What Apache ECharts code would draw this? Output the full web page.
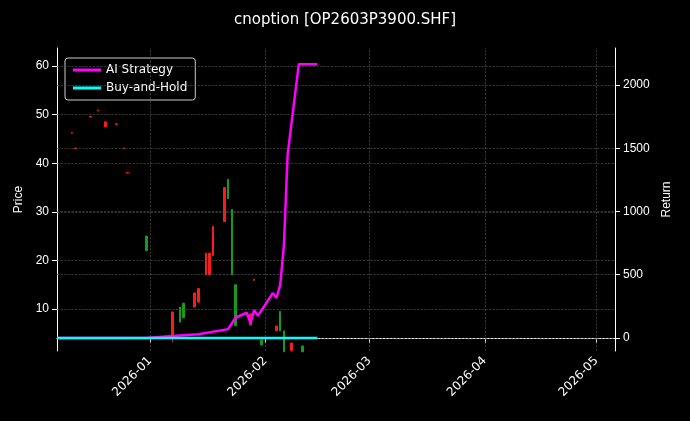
<!DOCTYPE html><html><head><meta charset="utf-8"><script src="https://cdn.jsdelivr.net/npm/echarts@6/dist/echarts.min.js"></script>
<style>html,body{margin:0;background:#000}#c{width:690px;height:421px}</style></head><body><div id="c"></div><script>
const candleDates=['2025-12-11','2025-12-12','2025-12-16','2025-12-18','2025-12-20','2025-12-23','2025-12-25','2025-12-26','2025-12-31','2026-01-07','2026-01-09','2026-01-10','2026-01-13','2026-01-14','2026-01-16','2026-01-17','2026-01-18','2026-01-21','2026-01-22','2026-01-23','2026-01-24','2026-01-28','2026-01-29','2026-01-31','2026-02-04','2026-02-05','2026-02-06','2026-02-08','2026-02-11'];
const candleOCLH=[[46.2,46.3,46.1,46.4],[43,43.1,42.9,43.2],[49.5,49.6,49.4,49.7],[50.8,50.9,50.7,51],[47.5,48.5,47.4,48.6],[48,48.1,47.9,48.2],[43,43.1,42.9,43.2],[38,38.1,37.9,38.2],[25,22,22,25],[4,9.4,3.2,9.4],[10.4,7.3,7.3,10.4],[11.2,8.2,8.2,11.2],[10.4,13.3,10.4,13.3],[11.4,14.2,11.4,14.2],[17,21.5,17,21.5],[17,21.5,17,21.5],[21,27,21,27],[28,35,28,35],[36.7,32.7,32.7,36.7],[30.5,17,17,30.5],[15,6.6,6.6,15],[6.7,9,6.7,9],[15.9,16.1,15.8,16.2],[3.6,2.6,2.6,3.6],[5.5,6.5,5.5,6.5],[9.5,5.5,5.5,9.5],[5.5,1.2,1.2,5.5],[1.5,3,1.2,3],[2.4,1.2,1.2,2.4]];
const lineDates=['2025-12-07','2025-12-31','2026-01-07','2026-01-14','2026-01-22','2026-01-24','2026-01-27','2026-01-28','2026-01-29','2026-01-30','2026-02-03','2026-02-04','2026-02-05','2026-02-06','2026-02-07','2026-02-10','2026-02-15'];
const aiReturn=[0,0,15,30,70,160,200,120,220,175,355,316,420,735,1450,2165,2165];
const bhDates=['2025-12-07','2026-02-15'];
const bhReturn=[0,0];
const monthTicks=['2026-01-01','2026-02-01','2026-03-01','2026-04-01','2026-05-01'];
const priceTicks=[10,20,30,40,50,60];
const returnTicks=[0,500,1000,1500,2000];
const ts=d=>+new Date(d+'T00:00:00');
const mt=monthTicks.map(ts);
const c=echarts.init(document.getElementById('c'));
const ml={silent:true,symbol:'none',label:{show:false},lineStyle:{color:'#555',type:'dashed',width:0.6}};
c.setOption({backgroundColor:'#000',animation:false,
title:{text:'cnoption [OP2603P3900.SHF]',left:'center',top:8,textStyle:{color:'#fff',fontSize:15,fontWeight:'normal',fontFamily:'DejaVu Sans'}},
legend:{left:65,top:58,orient:'vertical',itemGap:6,backgroundColor:'#000',borderColor:'#ccc',borderWidth:1,borderRadius:3,padding:[6,8],textStyle:{color:'#fff',fontSize:12,fontFamily:'DejaVu Sans'},data:[{name:'AI Strategy',icon:'rect'},{name:'Buy-and-Hold',icon:'rect'}],itemWidth:28,itemHeight:3},
grid:{left:57,right:75,top:48,bottom:70},
xAxis:{type:'value',min:ts('2025-12-07'),max:ts('2026-05-06'),axisLine:{lineStyle:{color:'#fff'}},axisTick:{customValues:mt,lineStyle:{color:'#fff'}},
axisLabel:{customValues:mt,rotate:45,color:'#fff',fontSize:12,fontFamily:'DejaVu Sans',formatter:v=>{const d=new Date(v);return d.getFullYear()+'-'+String(d.getMonth()+1).padStart(2,'0');}},splitLine:{show:false}},
yAxis:[{type:'value',name:'Price',nameLocation:'middle',nameGap:32,nameTextStyle:{color:'#fff',fontSize:12},min:1.36,max:63.7,axisLine:{show:true,lineStyle:{color:'#fff'}},axisTick:{show:true,customValues:priceTicks},axisLabel:{color:'#fff',fontSize:12,customValues:priceTicks},splitLine:{show:false}},
{type:'value',name:'Return',nameLocation:'middle',nameGap:45,nameTextStyle:{color:'#fff',fontSize:12},min:-103,max:2293,axisLine:{show:true,lineStyle:{color:'#fff'}},axisTick:{show:true,customValues:returnTicks},axisLabel:{color:'#fff',fontSize:12,customValues:returnTicks,formatter:v=>String(v)},splitLine:{show:false}}],
series:[
{type:'line',data:[],z:1,markLine:Object.assign({},ml,{data:[...mt.map(v=>({xAxis:v})),...priceTicks.map(v=>({yAxis:v}))]})},
{type:'line',data:[],yAxisIndex:1,z:1,markLine:Object.assign({},ml,{data:returnTicks.map(v=>({yAxis:v}))})},
{type:'candlestick',name:'Price',barWidth:2,z:2,data:candleDates.map((d,i)=>[ts(d),...candleOCLH[i]]),itemStyle:{color:'#ff1a1a',color0:'#1a9a1a',borderColor:'#ff1a1a',borderColor0:'#1a9a1a',borderWidth:1}},
{type:'line',name:'AI Strategy',yAxisIndex:1,showSymbol:false,data:lineDates.map((d,i)=>[ts(d),aiReturn[i]]),lineStyle:{color:'#ff00ff',width:2.5},itemStyle:{color:'#ff00ff'},z:5},
{type:'line',name:'Buy-and-Hold',yAxisIndex:1,showSymbol:false,data:bhDates.map((d,i)=>[ts(d),bhReturn[i]]),lineStyle:{color:'#00ffff',width:2.5},itemStyle:{color:'#00ffff'},z:6}
]});
</script></body></html>
